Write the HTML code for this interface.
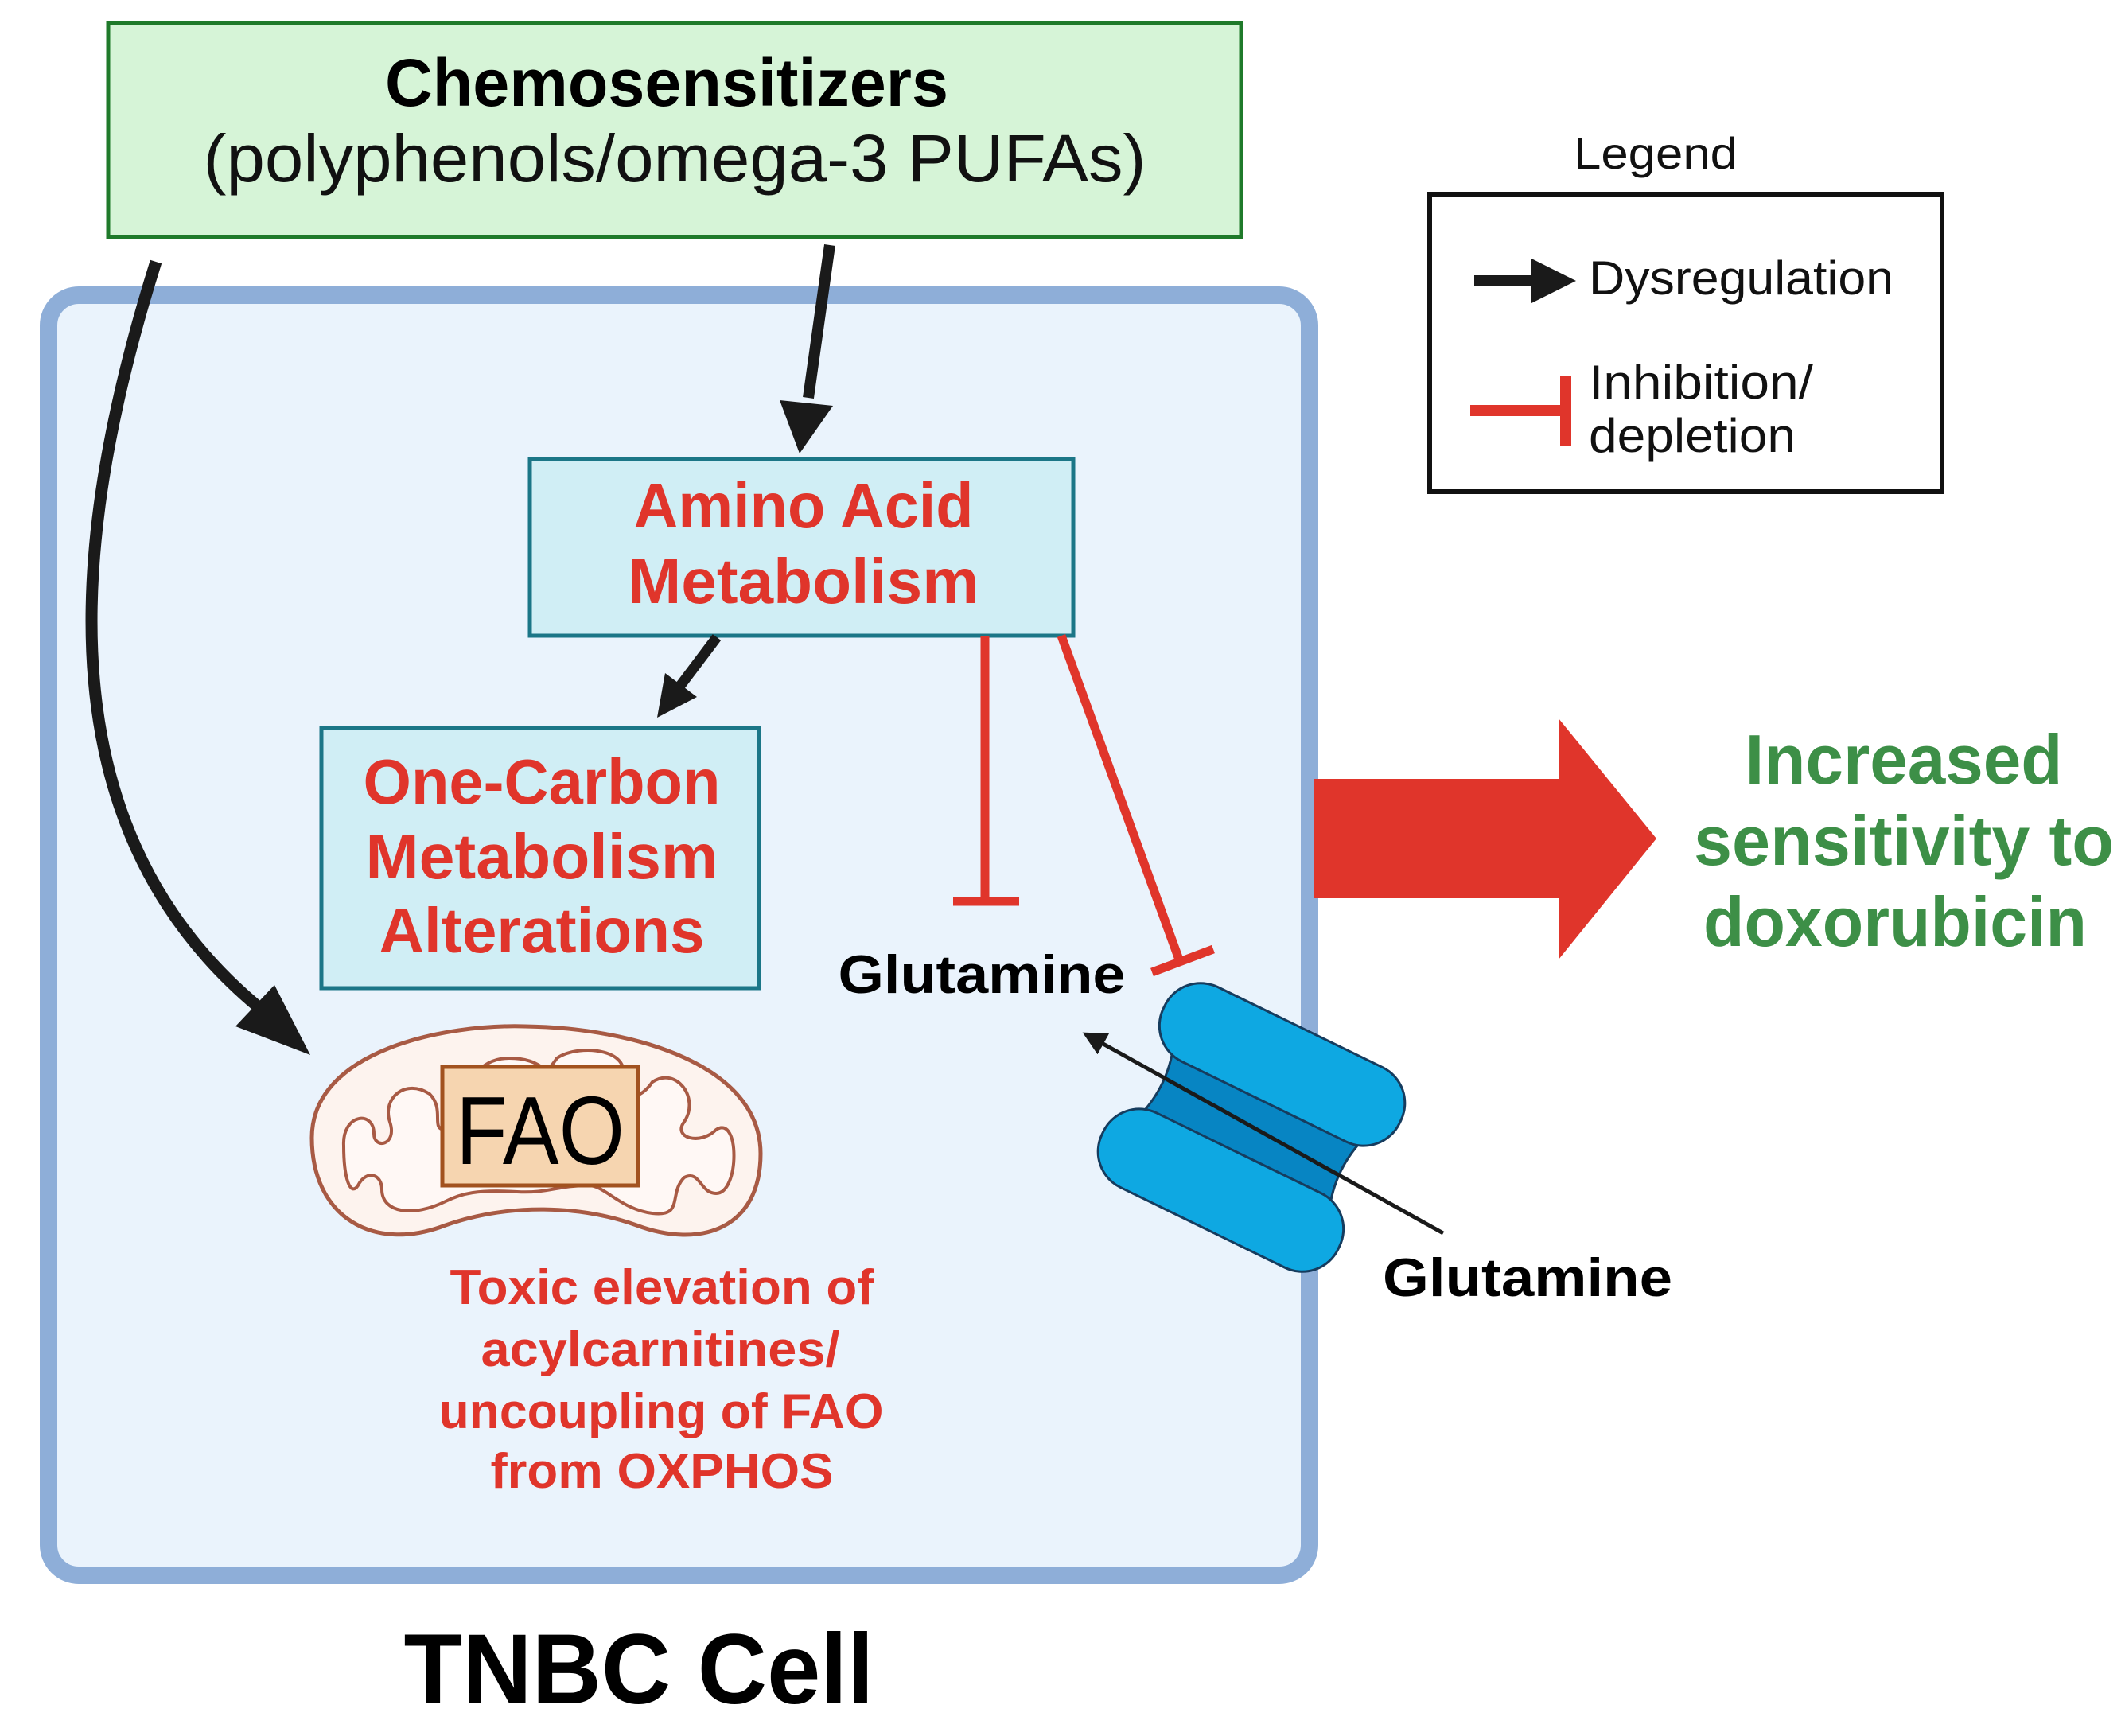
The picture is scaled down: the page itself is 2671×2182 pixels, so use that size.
<!DOCTYPE html>
<html><head><meta charset="utf-8"><style>html,body{margin:0;padding:0;background:#fff}svg{display:block}</style></head>
<body>
<svg width="2671" height="2182" viewBox="0 0 2671 2182" xmlns="http://www.w3.org/2000/svg" font-family="Liberation Sans, sans-serif">
<defs>
<marker id="ahs" markerWidth="6" markerHeight="6" refX="5" refY="3" orient="auto" markerUnits="strokeWidth"><path d="M0,0 L6,3 L0,6 Z" fill="#1a1a1a"/></marker>
</defs>
<rect x="136" y="29" width="1424" height="269" fill="#d6f4d7" stroke="#1f7a2a" stroke-width="5"/>
<text x="838" y="133" font-size="84" font-weight="bold" text-anchor="middle" textLength="708" lengthAdjust="spacingAndGlyphs">Chemosensitizers</text>
<text x="848" y="228" font-size="84" text-anchor="middle" textLength="1185" lengthAdjust="spacingAndGlyphs" fill="#111">(polyphenols/omega-3 PUFAs)</text>
<rect x="61" y="371" width="1585" height="1609" rx="38" fill="#eaf3fc" stroke="#8eaed8" stroke-width="22"/>
<text x="2081" y="212" font-size="56" text-anchor="middle" textLength="206" lengthAdjust="spacingAndGlyphs" fill="#111">Legend</text>
<rect x="1797" y="244" width="644" height="374" fill="#fff" stroke="#111" stroke-width="6"/>
<line x1="1853" y1="353" x2="1945" y2="353" stroke="#1a1a1a" stroke-width="14"/>
<path d="M1925,325 L1981,353 L1925,381 Z" fill="#1a1a1a"/>
<text x="1997" y="370" font-size="60" textLength="383" lengthAdjust="spacingAndGlyphs" fill="#111">Dysregulation</text>
<line x1="1848" y1="516" x2="1968" y2="516" stroke="#e0352b" stroke-width="14"/>
<line x1="1968" y1="472" x2="1968" y2="560" stroke="#e0352b" stroke-width="14"/>
<text x="1997" y="501" font-size="60" textLength="282" lengthAdjust="spacingAndGlyphs" fill="#111">Inhibition/</text>
<text x="1997" y="568" font-size="60" textLength="260" lengthAdjust="spacingAndGlyphs" fill="#111">depletion</text>
<rect x="666" y="577" width="683" height="222" fill="#d0eef5" stroke="#1b7687" stroke-width="5"/>
<text x="1010" y="663" font-size="80" font-weight="bold" fill="#e0352b" text-anchor="middle" textLength="427" lengthAdjust="spacingAndGlyphs">Amino Acid</text>
<text x="1010" y="758" font-size="80" font-weight="bold" fill="#e0352b" text-anchor="middle" textLength="441" lengthAdjust="spacingAndGlyphs">Metabolism</text>
<rect x="404" y="915" width="550" height="327" fill="#d0eef5" stroke="#1b7687" stroke-width="5"/>
<text x="681" y="1010" font-size="80" font-weight="bold" fill="#e0352b" text-anchor="middle" textLength="449" lengthAdjust="spacingAndGlyphs">One-Carbon</text>
<text x="681" y="1104" font-size="80" font-weight="bold" fill="#e0352b" text-anchor="middle" textLength="443" lengthAdjust="spacingAndGlyphs">Metabolism</text>
<text x="681" y="1197" font-size="80" font-weight="bold" fill="#e0352b" text-anchor="middle" textLength="409" lengthAdjust="spacingAndGlyphs">Alterations</text>
<line x1="1043" y1="308" x2="1016" y2="500" stroke="#1a1a1a" stroke-width="14"/>
<path d="M980,503 L1005,570 L1047,510 Z" fill="#1a1a1a"/>
<line x1="901" y1="801" x2="855" y2="862" stroke="#1a1a1a" stroke-width="13"/>
<path d="M836,846 L826,902 L876,876 Z" fill="#1a1a1a"/>
<path d="M196,329 C 80,700 60,1050 330,1270" fill="none" stroke="#1a1a1a" stroke-width="15"/>
<path d="M296,1290 L390,1326 L345,1238 Z" fill="#1a1a1a"/>
<line x1="1238" y1="799" x2="1238" y2="1133" stroke="#e0352b" stroke-width="11"/>
<line x1="1198" y1="1133" x2="1281" y2="1133" stroke="#e0352b" stroke-width="11"/>
<line x1="1334" y1="799" x2="1482" y2="1206" stroke="#e0352b" stroke-width="11"/>
<line x1="1448" y1="1222" x2="1525" y2="1193" stroke="#e0352b" stroke-width="11"/>
<path d="M1652,979 L1959,979 L1959,903 L2082,1054 L1959,1206 L1959,1129 L1652,1129 Z" fill="#e0352b"/>
<text x="2393" y="985" font-size="88" font-weight="bold" fill="#3d8f47" text-anchor="middle" textLength="399" lengthAdjust="spacingAndGlyphs">Increased</text>
<text x="2393" y="1087" font-size="88" font-weight="bold" fill="#3d8f47" text-anchor="middle" textLength="528" lengthAdjust="spacingAndGlyphs">sensitivity to</text>
<text x="2382" y="1189" font-size="88" font-weight="bold" fill="#3d8f47" text-anchor="middle" textLength="482" lengthAdjust="spacingAndGlyphs">doxorubicin</text>
<text x="1234" y="1248" font-size="68" font-weight="bold" fill="#000" text-anchor="middle" textLength="361" lengthAdjust="spacingAndGlyphs">Glutamine</text>
<text x="1920" y="1629" font-size="68" font-weight="bold" fill="#000" text-anchor="middle" textLength="364" lengthAdjust="spacingAndGlyphs">Glutamine</text>
<g transform="translate(1573,1417) rotate(26)">
<path d="M-135,-55 Q-115,0 -135,55 L135,55 Q115,0 135,-55 Z" fill="#0785c3" stroke="#163c5e" stroke-width="3"/>
<rect x="-165" y="-140" width="330" height="104" rx="50" fill="#0ea8e2" stroke="#163c5e" stroke-width="3"/>
<rect x="-165" y="36" width="330" height="104" rx="50" fill="#0ea8e2" stroke="#163c5e" stroke-width="3"/>
</g>
<line x1="1814" y1="1550" x2="1365" y2="1300" stroke="#1a1a1a" stroke-width="5" marker-end="url(#ahs)"/>
<path d="M392,1430 C392,1320 560,1287 660,1290 C800,1292 956,1340 956,1450 C956,1545 880,1570 800,1540 C730,1515 640,1512 560,1540 C470,1575 392,1530 392,1430 Z" fill="#fdf3ee" stroke="#a85a44" stroke-width="5"/>
<path d="M432,1440 C430,1400 470,1395 470,1425 C470,1445 500,1440 490,1410 C480,1380 510,1355 540,1375 C560,1395 540,1420 560,1420 C580,1420 575,1330 640,1330 C690,1330 680,1360 700,1330 C730,1310 800,1320 780,1360 C770,1380 800,1390 820,1360 C850,1340 880,1380 860,1410 C845,1430 880,1440 900,1420 C930,1400 930,1500 900,1500 C880,1500 880,1470 860,1480 C840,1500 860,1530 820,1525 C780,1520 760,1490 740,1490 C700,1490 690,1500 650,1498 C600,1495 580,1500 560,1510 C520,1530 480,1525 480,1495 C480,1475 460,1470 450,1490 C440,1505 432,1480 432,1440 Z" fill="#fff8f5" stroke="#a85a44" stroke-width="4"/>
<rect x="556" y="1341" width="246" height="149" fill="#f6d5b0" stroke="#a2521f" stroke-width="5"/>
<text x="679" y="1463" font-size="122" fill="#000" text-anchor="middle" textLength="212" lengthAdjust="spacingAndGlyphs">FAO</text>
<g font-size="62" font-weight="bold" fill="#e0352b" text-anchor="middle">
<text x="832" y="1639" textLength="533" lengthAdjust="spacingAndGlyphs">Toxic elevation of</text>
<text x="830" y="1717" textLength="451" lengthAdjust="spacingAndGlyphs">acylcarnitines/</text>
<text x="831" y="1795" textLength="559" lengthAdjust="spacingAndGlyphs">uncoupling of FAO</text>
<text x="832" y="1870" textLength="431" lengthAdjust="spacingAndGlyphs">from OXPHOS</text>
</g>
<text x="803" y="2141" font-size="125" font-weight="bold" fill="#000" text-anchor="middle" textLength="591" lengthAdjust="spacingAndGlyphs">TNBC Cell</text>
</svg>
</body></html>
